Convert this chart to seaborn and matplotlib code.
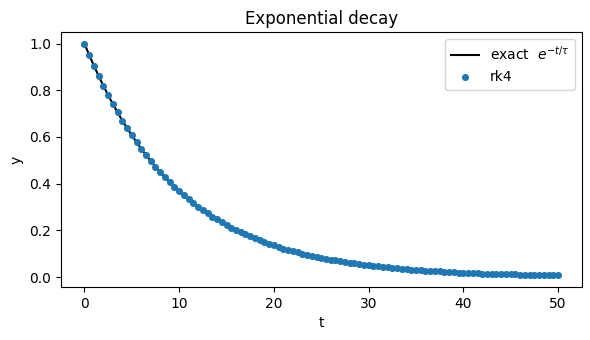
import matplotlib
matplotlib.use("Agg")
import matplotlib.pyplot as plt
import seaborn as sns
import pandas as pd

# time steps (h = 0.5) and solution values
t = [0.0, 0.5, 1.0, 1.5, 2.0, 2.5, 3.0, 3.5, 4.0, 4.5,
     5.0, 5.5, 6.0, 6.5, 7.0, 7.5, 8.0, 8.5, 9.0, 9.5,
     10.0, 10.5, 11.0, 11.5, 12.0, 12.5, 13.0, 13.5, 14.0, 14.5,
     15.0, 15.5, 16.0, 16.5, 17.0, 17.5, 18.0, 18.5, 19.0, 19.5,
     20.0, 20.5, 21.0, 21.5, 22.0, 22.5, 23.0, 23.5, 24.0, 24.5,
     25.0, 25.5, 26.0, 26.5, 27.0, 27.5, 28.0, 28.5, 29.0, 29.5,
     30.0, 30.5, 31.0, 31.5, 32.0, 32.5, 33.0, 33.5, 34.0, 34.5,
     35.0, 35.5, 36.0, 36.5, 37.0, 37.5, 38.0, 38.5, 39.0, 39.5,
     40.0, 40.5, 41.0, 41.5, 42.0, 42.5, 43.0, 43.5, 44.0, 44.5,
     45.0, 45.5, 46.0, 46.5, 47.0, 47.5, 48.0, 48.5, 49.0, 49.5,
     50.0]

y_exact = [1.000, 0.951, 0.905, 0.861, 0.819, 0.779, 0.741, 0.705, 0.670, 0.638,
           0.607, 0.577, 0.549, 0.522, 0.497, 0.472, 0.449, 0.427, 0.407, 0.387,
           0.368, 0.350, 0.333, 0.317, 0.301, 0.287, 0.273, 0.259, 0.247, 0.235,
           0.223, 0.212, 0.202, 0.192, 0.183, 0.174, 0.165, 0.157, 0.150, 0.142,
           0.135, 0.129, 0.122, 0.116, 0.111, 0.105, 0.100, 0.095, 0.091, 0.086,
           0.082, 0.078, 0.074, 0.071, 0.067, 0.064, 0.061, 0.058, 0.055, 0.052,
           0.050, 0.047, 0.045, 0.043, 0.041, 0.039, 0.037, 0.035, 0.033, 0.032,
           0.030, 0.029, 0.027, 0.026, 0.025, 0.024, 0.022, 0.021, 0.020, 0.019,
           0.018, 0.017, 0.017, 0.016, 0.015, 0.014, 0.014, 0.013, 0.012, 0.012,
           0.011, 0.011, 0.010, 0.010, 0.009, 0.009, 0.008, 0.008, 0.007, 0.007,
           0.007]

# rk4 agrees with the exact curve to within pixel precision
y_rk4 = list(y_exact)

df = pd.DataFrame({'t': t, 'exact': y_exact, 'rk4': y_rk4})

fig, ax = plt.subplots(figsize=(5.9, 3.4), dpi=100)
sns.lineplot(data=df, x='t', y='exact', color='black', linewidth=1.5,
             label=r'exact  $e^{-t/\tau}$', ax=ax)
sns.scatterplot(data=df, x='t', y='rk4', color='#1f77b4', s=26, linewidth=0,
                label='rk4', ax=ax, zorder=3)
ax.set_title('Exponential decay')
ax.set_xlabel('t')
ax.set_ylabel('y')
ax.legend(loc='upper right')

fig.subplots_adjust(left=0.103, right=0.986, top=0.906, bottom=0.156)
fig.savefig('out.png', dpi=100)
